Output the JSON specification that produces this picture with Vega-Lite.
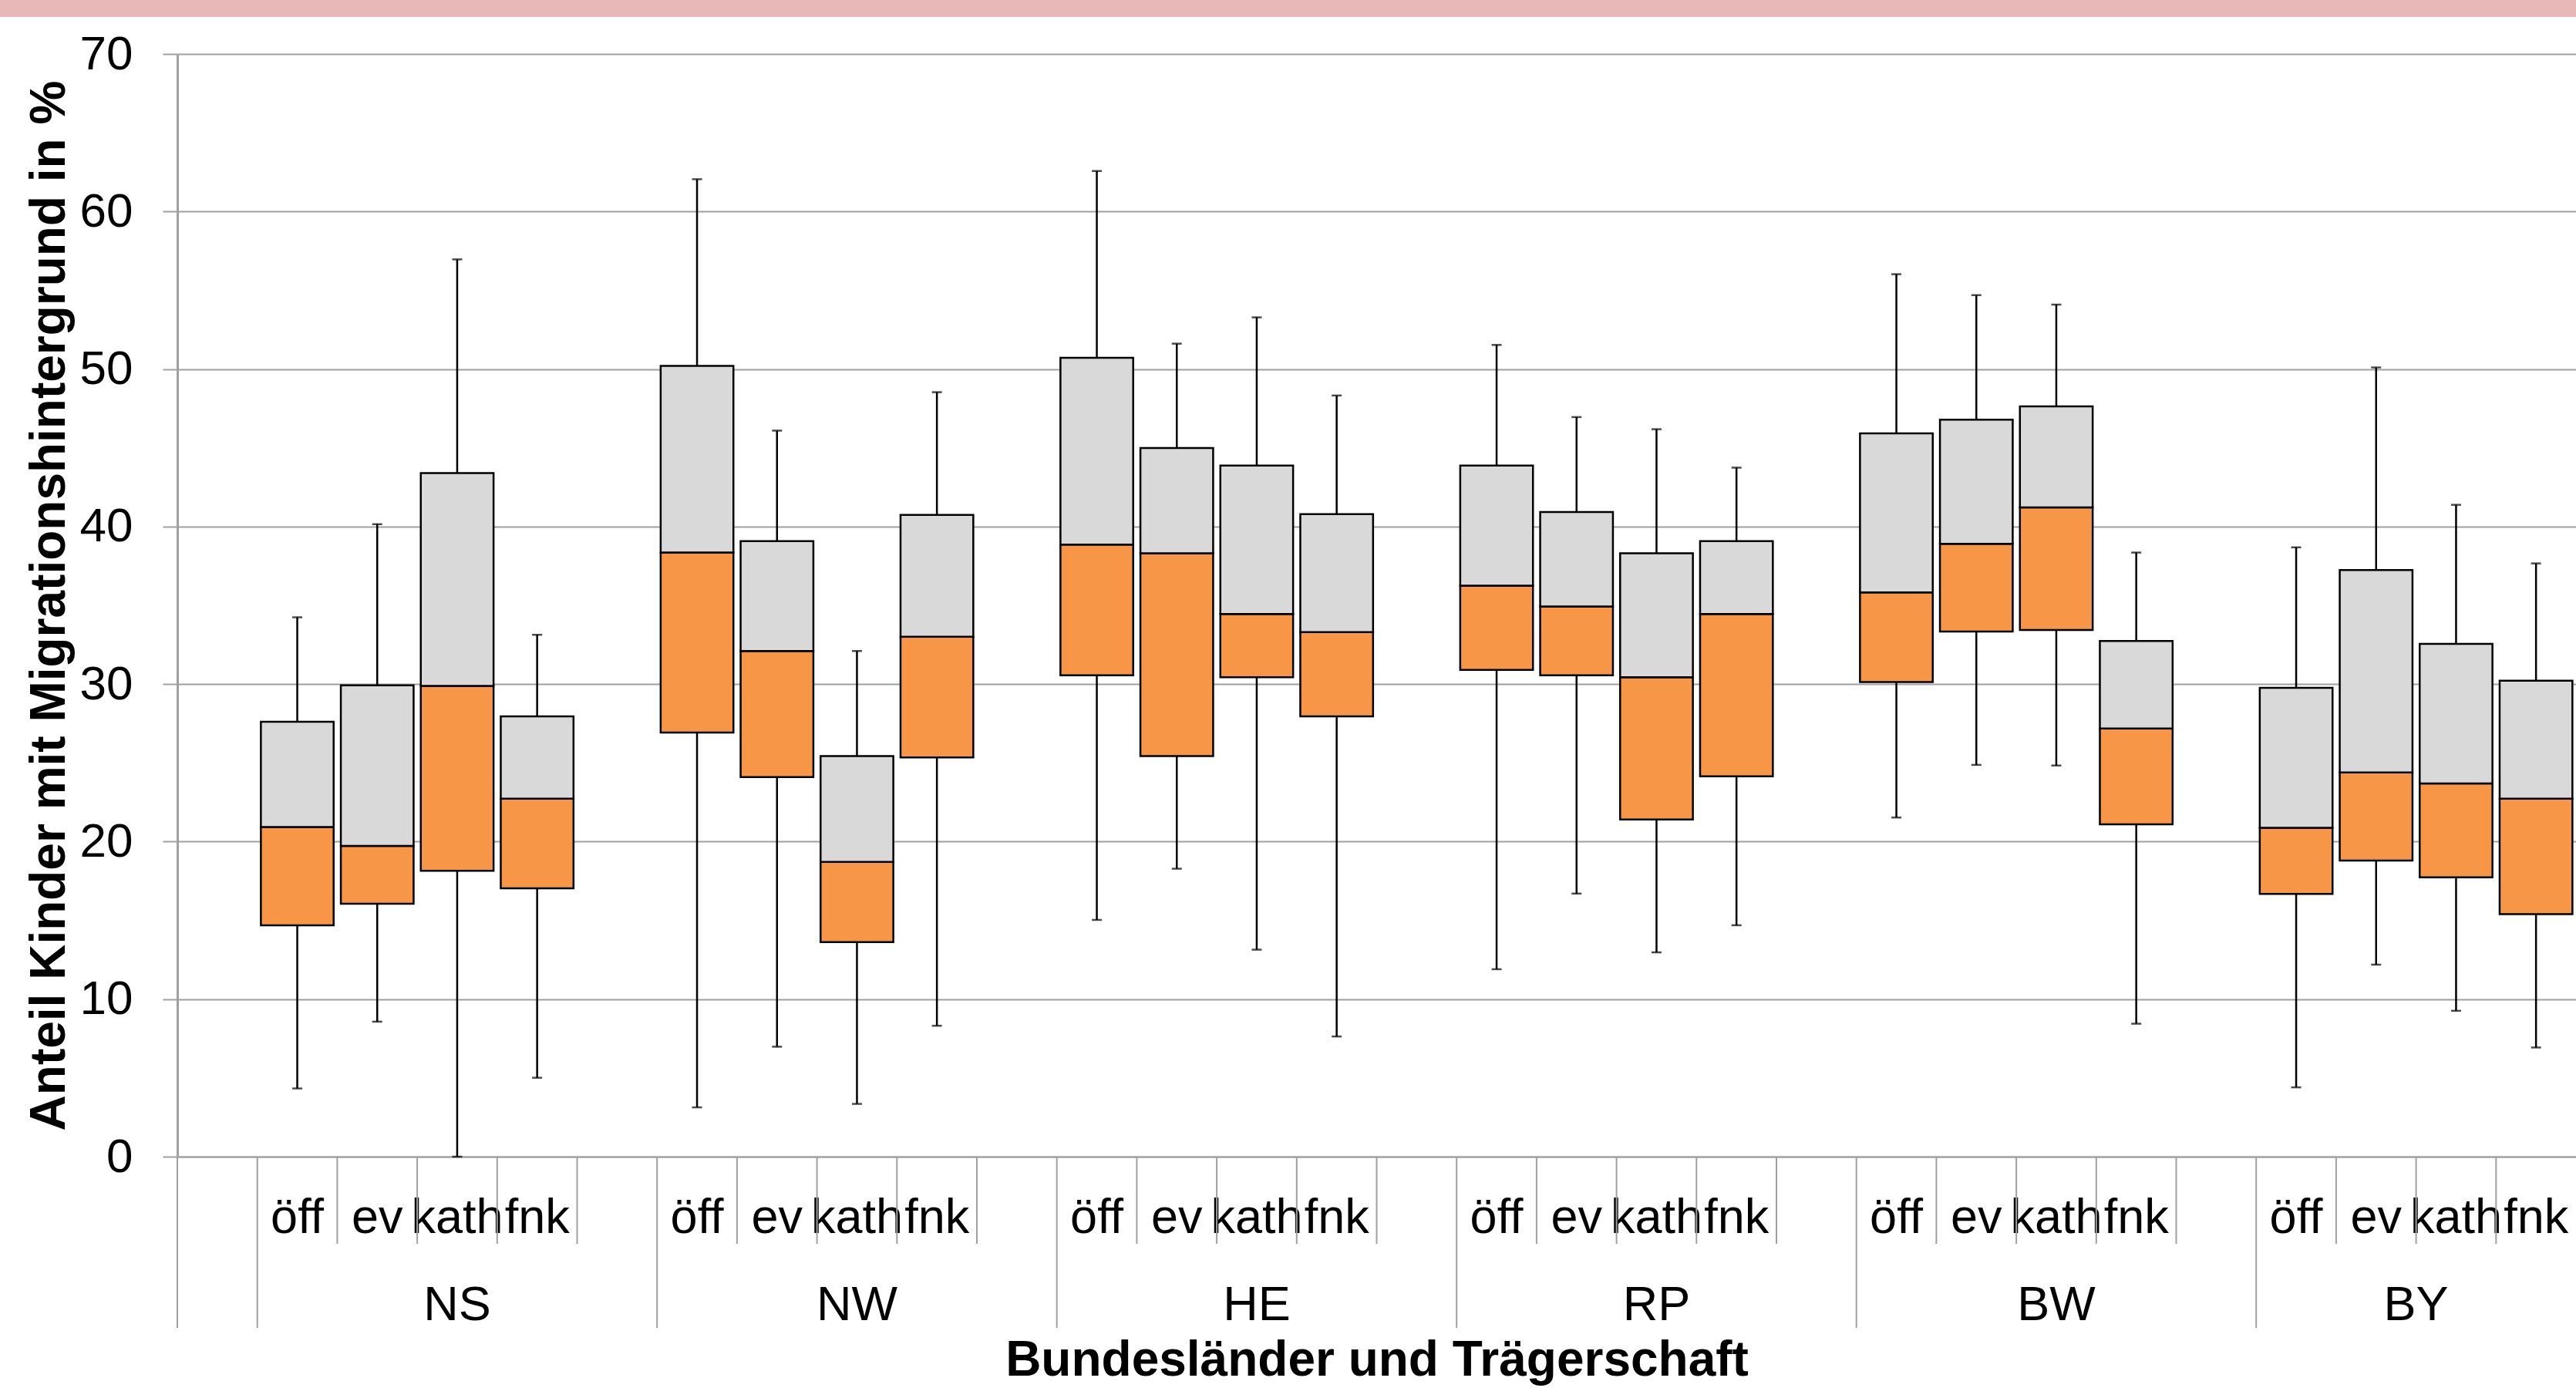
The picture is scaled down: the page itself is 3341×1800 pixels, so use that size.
{
  "$schema": "https://vega.github.io/schema/vega-lite/v6.json",
  "width": 3111,
  "height": 1430,
  "autosize": {"type": "none"},
  "padding": {"left": 230, "top": 70, "right": 0, "bottom": 300},
  "background": "white",
  "config": {"view": {"stroke": null}, "font": "Liberation Sans"},
  "datasets": {
    "boxes": [
      {"land": "NS", "traeger": "öff", "slot": "NS|öff", "low": 4.33, "q1": 14.69, "median": 20.93, "q3": 27.61, "high": 34.24},
      {"land": "NS", "traeger": "ev", "slot": "NS|ev", "low": 8.57, "q1": 16.05, "median": 19.73, "q3": 29.92, "high": 40.15},
      {"land": "NS", "traeger": "kath", "slot": "NS|kath", "low": 0.0, "q1": 18.15, "median": 29.88, "q3": 43.4, "high": 56.96},
      {"land": "NS", "traeger": "fnk", "slot": "NS|fnk", "low": 5.01, "q1": 17.04, "median": 22.73, "q3": 27.95, "high": 33.13},
      {"land": "NW", "traeger": "öff", "slot": "NW|öff", "low": 3.13, "q1": 26.92, "median": 38.35, "q3": 50.2, "high": 62.05},
      {"land": "NW", "traeger": "ev", "slot": "NW|ev", "low": 6.98, "q1": 24.1, "median": 32.1, "q3": 39.08, "high": 46.09},
      {"land": "NW", "traeger": "kath", "slot": "NW|kath", "low": 3.35, "q1": 13.62, "median": 18.71, "q3": 25.43, "high": 32.1},
      {"land": "NW", "traeger": "fnk", "slot": "NW|fnk", "low": 8.31, "q1": 25.34, "median": 33.0, "q3": 40.74, "high": 48.53},
      {"land": "HE", "traeger": "öff", "slot": "HE|öff", "low": 15.03, "q1": 30.56, "median": 38.86, "q3": 50.71, "high": 62.57},
      {"land": "HE", "traeger": "ev", "slot": "HE|ev", "low": 18.28, "q1": 25.43, "median": 38.31, "q3": 44.98, "high": 51.61},
      {"land": "HE", "traeger": "kath", "slot": "HE|kath", "low": 13.14, "q1": 30.43, "median": 34.45, "q3": 43.87, "high": 53.28},
      {"land": "HE", "traeger": "fnk", "slot": "HE|fnk", "low": 7.63, "q1": 27.95, "median": 33.3, "q3": 40.79, "high": 48.32},
      {"land": "RP", "traeger": "öff", "slot": "RP|öff", "low": 11.9, "q1": 30.9, "median": 36.25, "q3": 43.87, "high": 51.53},
      {"land": "RP", "traeger": "ev", "slot": "RP|ev", "low": 16.7, "q1": 30.56, "median": 34.93, "q3": 40.92, "high": 46.95},
      {"land": "RP", "traeger": "kath", "slot": "RP|kath", "low": 12.97, "q1": 21.4, "median": 30.43, "q3": 38.31, "high": 46.18},
      {"land": "RP", "traeger": "fnk", "slot": "RP|fnk", "low": 14.69, "q1": 24.14, "median": 34.45, "q3": 39.08, "high": 43.74},
      {"land": "BW", "traeger": "öff", "slot": "BW|öff", "low": 21.53, "q1": 30.13, "median": 35.82, "q3": 45.92, "high": 56.02},
      {"land": "BW", "traeger": "ev", "slot": "BW|ev", "low": 24.87, "q1": 33.34, "median": 38.9, "q3": 46.78, "high": 54.69},
      {"land": "BW", "traeger": "kath", "slot": "BW|kath", "low": 24.83, "q1": 33.43, "median": 41.22, "q3": 47.63, "high": 54.09},
      {"land": "BW", "traeger": "fnk", "slot": "BW|fnk", "low": 8.44, "q1": 21.1, "median": 27.18, "q3": 32.74, "high": 38.35},
      {"land": "BY", "traeger": "öff", "slot": "BY|öff", "low": 4.4, "q1": 16.68, "median": 20.88, "q3": 29.76, "high": 38.68},
      {"land": "BY", "traeger": "ev", "slot": "BY|ev", "low": 12.19, "q1": 18.8, "median": 24.39, "q3": 37.24, "high": 50.1},
      {"land": "BY", "traeger": "kath", "slot": "BY|kath", "low": 9.26, "q1": 17.73, "median": 23.69, "q3": 32.55, "high": 41.38},
      {"land": "BY", "traeger": "fnk", "slot": "BY|fnk", "low": 6.93, "q1": 15.39, "median": 22.73, "q3": 30.21, "high": 37.66}
    ],
    "dividers": [
      {"slot": "0|", "kind": "long"},
      {"slot": "NS|öff", "kind": "long"}, {"slot": "NS|ev", "kind": "short"}, {"slot": "NS|kath", "kind": "short"}, {"slot": "NS|fnk", "kind": "short"}, {"slot": "NS|", "kind": "short"},
      {"slot": "NW|öff", "kind": "long"}, {"slot": "NW|ev", "kind": "short"}, {"slot": "NW|kath", "kind": "short"}, {"slot": "NW|fnk", "kind": "short"}, {"slot": "NW|", "kind": "short"},
      {"slot": "HE|öff", "kind": "long"}, {"slot": "HE|ev", "kind": "short"}, {"slot": "HE|kath", "kind": "short"}, {"slot": "HE|fnk", "kind": "short"}, {"slot": "HE|", "kind": "short"},
      {"slot": "RP|öff", "kind": "long"}, {"slot": "RP|ev", "kind": "short"}, {"slot": "RP|kath", "kind": "short"}, {"slot": "RP|fnk", "kind": "short"}, {"slot": "RP|", "kind": "short"},
      {"slot": "BW|öff", "kind": "long"}, {"slot": "BW|ev", "kind": "short"}, {"slot": "BW|kath", "kind": "short"}, {"slot": "BW|fnk", "kind": "short"}, {"slot": "BW|", "kind": "short"},
      {"slot": "BY|öff", "kind": "long"}, {"slot": "BY|ev", "kind": "short"}, {"slot": "BY|kath", "kind": "short"}, {"slot": "BY|fnk", "kind": "short"}
    ],
    "groups": [
      {"land": "NS", "slot": "NS|kath", "clipped": false},
      {"land": "NW", "slot": "NW|kath", "clipped": false},
      {"land": "HE", "slot": "HE|kath", "clipped": false},
      {"land": "RP", "slot": "RP|kath", "clipped": false},
      {"land": "BW", "slot": "BW|kath", "clipped": false},
      {"land": "BY", "slot": "BY|kath", "clipped": true}
    ],
    "band": [{"name": "title band"}]
  },
  "resolve": {"scale": {"x": "independent"}},
  "layer": [
    {
      "data": {"name": "band"},
      "mark": {"type": "rect", "color": "#E8B8B8"},
      "encoding": {
        "x": {"datum": -0.08, "type": "quantitative", "scale": {"domain": [0, 1]}, "axis": null},
        "x2": {"datum": 1.01},
        "y": {"datum": 72.35, "type": "quantitative", "scale": {"domain": [0, 70], "nice": false}},
        "y2": {"datum": 76}
      }
    },
    {
      "layer": [
        {
          "data": {"name": "dividers"},
          "transform": [{"filter": "datum.kind == 'long'"}],
          "mark": {"type": "rule", "color": "#A0A0A0", "strokeWidth": 2},
          "encoding": {
            "x": {
              "field": "slot", "type": "nominal", "bandPosition": 0,
              "scale": {
                "type": "band", "paddingInner": 0, "paddingOuter": 0,
                "domain": ["0|",
                  "NS|öff", "NS|ev", "NS|kath", "NS|fnk", "NS|",
                  "NW|öff", "NW|ev", "NW|kath", "NW|fnk", "NW|",
                  "HE|öff", "HE|ev", "HE|kath", "HE|fnk", "HE|",
                  "RP|öff", "RP|ev", "RP|kath", "RP|fnk", "RP|",
                  "BW|öff", "BW|ev", "BW|kath", "BW|fnk", "BW|",
                  "BY|öff", "BY|ev", "BY|kath", "BY|fnk"]
              },
              "axis": {
                "title": "Bundesländer und Trägerschaft",
                "titleFontSize": 64, "titleFontWeight": "bold", "titleColor": "black",
                "titleBaseline": "alphabetic", "titleY": 283,
                "labelExpr": "split(datum.value, '|')[1]",
                "labelAngle": 0, "labelFontSize": 63, "labelColor": "black",
                "labelBaseline": "alphabetic", "labelPadding": 98, "labelOverlap": false,
                "ticks": false, "grid": false,
                "domain": true, "domainColor": "#A0A0A0", "domainWidth": 2
              }
            },
            "y": {
              "datum": 0, "type": "quantitative",
              "scale": {"domain": [0, 70], "nice": false},
              "axis": {
                "title": "Anteil Kinder mit Migrationshintergrund in %",
                "titleFontSize": 64, "titleFontWeight": "bold", "titleColor": "black",
                "titleAngle": 270, "titleBaseline": "alphabetic", "titleX": -147, "titleY": 715,
                "values": [0, 10, 20, 30, 40, 50, 60, 70],
                "labelFontSize": 62, "labelColor": "black", "labelPadding": 39,
                "tickSize": 19, "tickColor": "#A0A0A0", "tickWidth": 2,
                "domainColor": "#A0A0A0", "domainWidth": 3,
                "grid": true, "gridColor": "#A0A0A0", "gridWidth": 2
              }
            },
            "y2": {"datum": -10.87}
          }
        },
        {
          "data": {"name": "dividers"},
          "transform": [{"filter": "datum.kind == 'short'"}],
          "mark": {"type": "rule", "color": "#A0A0A0", "strokeWidth": 2},
          "encoding": {
            "x": {"field": "slot", "type": "nominal", "bandPosition": 0, "scale": {"type": "band"}},
            "y": {"datum": 0, "type": "quantitative", "scale": {"domain": [0, 70], "nice": false}},
            "y2": {"datum": -5.53}
          }
        },
        {
          "data": {"name": "boxes"},
          "mark": {"type": "rule", "color": "black", "strokeWidth": 2.5},
          "encoding": {
            "x": {"field": "slot", "type": "nominal", "scale": {"type": "band"}},
            "y": {"field": "low", "type": "quantitative", "scale": {"domain": [0, 70], "nice": false}},
            "y2": {"field": "high"}
          }
        },
        {
          "data": {"name": "boxes"},
          "mark": {"type": "tick", "color": "black", "size": 13, "thickness": 2.5},
          "encoding": {
            "x": {"field": "slot", "type": "nominal", "scale": {"type": "band"}},
            "y": {"field": "low", "type": "quantitative", "scale": {"domain": [0, 70], "nice": false}}
          }
        },
        {
          "data": {"name": "boxes"},
          "mark": {"type": "tick", "color": "black", "size": 13, "thickness": 2.5},
          "encoding": {
            "x": {"field": "slot", "type": "nominal", "scale": {"type": "band"}},
            "y": {"field": "high", "type": "quantitative", "scale": {"domain": [0, 70], "nice": false}}
          }
        },
        {
          "data": {"name": "boxes"},
          "mark": {"type": "bar", "fill": "#F79646", "stroke": "black", "strokeWidth": 2.5, "width": {"band": 0.91}},
          "encoding": {
            "x": {"field": "slot", "type": "nominal", "scale": {"type": "band"}},
            "y": {"field": "q1", "type": "quantitative", "scale": {"domain": [0, 70], "nice": false}},
            "y2": {"field": "median"}
          }
        },
        {
          "data": {"name": "boxes"},
          "mark": {"type": "bar", "fill": "#D9D9D9", "stroke": "black", "strokeWidth": 2.5, "width": {"band": 0.91}},
          "encoding": {
            "x": {"field": "slot", "type": "nominal", "scale": {"type": "band"}},
            "y": {"field": "median", "type": "quantitative", "scale": {"domain": [0, 70], "nice": false}},
            "y2": {"field": "q3"}
          }
        },
        {
          "data": {"name": "groups"},
          "transform": [{"filter": "!datum.clipped"}],
          "mark": {"type": "text", "fontSize": 63, "color": "black", "baseline": "alphabetic", "align": "center"},
          "encoding": {
            "x": {"field": "slot", "type": "nominal", "scale": {"type": "band"}},
            "y": {"datum": -10.38, "type": "quantitative", "scale": {"domain": [0, 70], "nice": false}},
            "text": {"field": "land"}
          }
        },
        {
          "data": {"name": "groups"},
          "transform": [{"filter": "datum.clipped"}],
          "mark": {"type": "text", "fontSize": 63, "color": "black", "baseline": "alphabetic", "align": "center"},
          "encoding": {
            "x": {"field": "slot", "type": "nominal", "bandPosition": 0, "scale": {"type": "band"}},
            "y": {"datum": -10.38, "type": "quantitative", "scale": {"domain": [0, 70], "nice": false}},
            "text": {"field": "land"}
          }
        }
      ]
    }
  ]
}
